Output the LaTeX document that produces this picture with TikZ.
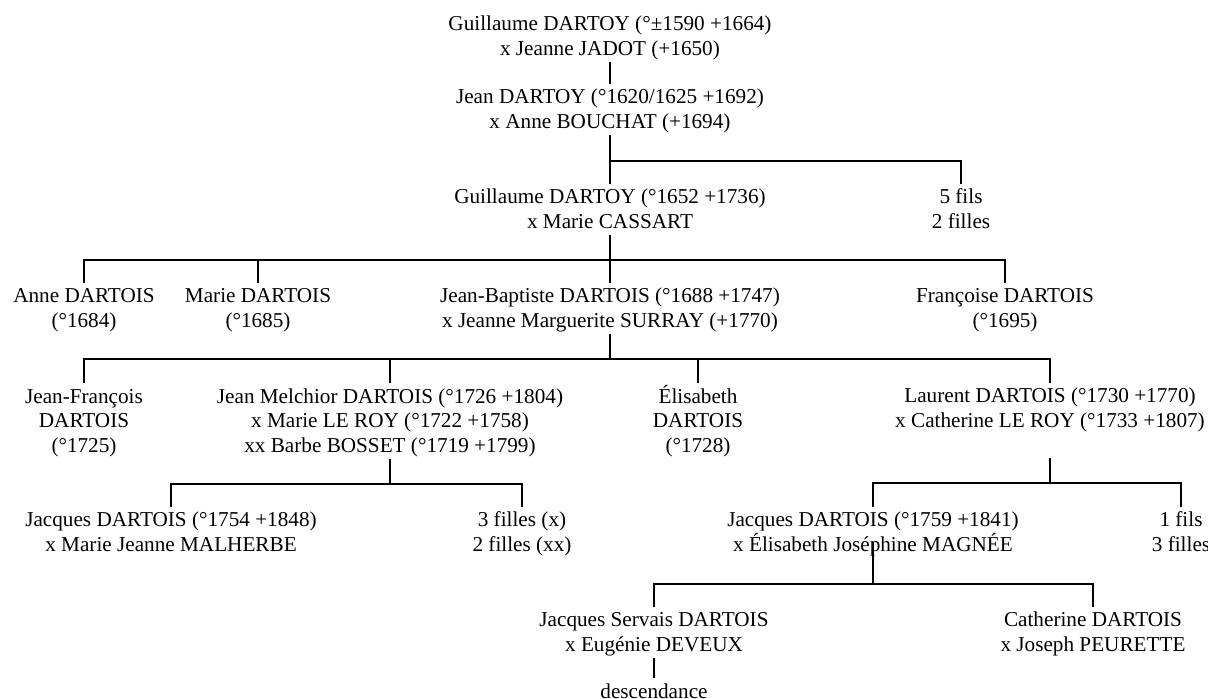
\documentclass[tikz,border=0pt]{standalone}
\usepackage{fontspec}
\setmainfont{Liberation Serif}
\usetikzlibrary{positioning}

\begin{document}
\begin{tikzpicture}[x=1pt,y=1pt,line width=2pt,
  pers/.style={align=center,inner sep=0pt,anchor=base,
    font=\fontsize{21.2}{24.3}\selectfont,text height=19pt,text depth=5.5pt},
  two/.style={pers,text height=43.3pt},
  three/.style={pers,text height=67.6pt}]
\useasboundingbox (0,0) rectangle (1208,-699);
% generations (placed at the baseline of the last line)
\node[two] (g1) at (610,-55) {Guillaume DARTOY (°±1590 +1664)\\x Jeanne JADOT (+1650)};
\node[two] (jn) at (610,-128) {Jean DARTOY (°1620/1625 +1692)\\x Anne BOUCHAT (+1694)};
\node[two] (g3) at (610,-228) {Guillaume DARTOY (°1652 +1736)\\x Marie CASSART};
\node[two] (f5) at (961,-228) {5 fils\\2 filles};
\node[two] (an) at (84,-327) {Anne DARTOIS\\(°1684)};
\node[two] (ma) at (258,-327) {Marie DARTOIS\\(°1685)};
\node[two] (jb) at (610,-327) {Jean-Baptiste DARTOIS (°1688 +1747)\\x Jeanne Marguerite SURRAY (+1770)};
\node[two] (fr) at (1005,-327) {Françoise DARTOIS\\(°1695)};
\node[three] (jf) at (84,-452) {Jean-François\\DARTOIS\\(°1725)};
\node[three] (jm) at (390,-452) {Jean Melchior DARTOIS (°1726 +1804)\\x Marie LE ROY (°1722 +1758)\\xx Barbe BOSSET (°1719 +1799)};
\node[three] (el) at (698,-452) {Élisabeth\\DARTOIS\\(°1728)};
\node[two,text depth=29.5pt] (la) at (1050,-427) {Laurent DARTOIS (°1730 +1770)\\x Catherine LE ROY (°1733 +1807)};
\node[two] (ja) at (171,-551) {Jacques DARTOIS (°1754 +1848)\\x Marie Jeanne MALHERBE};
\node[two] (f3) at (522,-551) {3 filles (x)\\2 filles (xx)};
\node[two] (jc) at (873,-551) {Jacques DARTOIS (°1759 +1841)\\x Élisabeth Joséphine MAGNÉE};
\node[two] (f1) at (1181,-551) {1 fils\\3 filles};
\node[two] (js) at (654,-651) {Jacques Servais DARTOIS\\x Eugénie DEVEUX};
\node[two] (ca) at (1093,-651) {Catherine DARTOIS\\x Joseph PEURETTE};
\node[pers] (de) at (654,-698) {descendance};
% links
\draw (g1.south) -- (jn.north);
\draw (jn.south) -- (g3.north);
\draw (jn.south) -- ++(0,-26) -| (f5.north);
\foreach \c in {an,ma,jb,fr} \draw (g3.south) -- ++(0,-25) -| (\c.north);
\foreach \c in {jf,jm,el,la} \draw (jb.south) -- ++(0,-25) -| (\c.north);
\foreach \c in {ja,f3} \draw (jm.south) -- ++(0,-25) -| (\c.north);
\foreach \c in {jc,f1} \draw (la.south) -- ++(0,-25) -| (\c.north);
\foreach \c in {js,ca} \draw ([yshift=16pt]jc.south) -- ++(0,-42) -| (\c.north);
\draw (js.south) -- (de.north);
\end{tikzpicture}
\end{document}
